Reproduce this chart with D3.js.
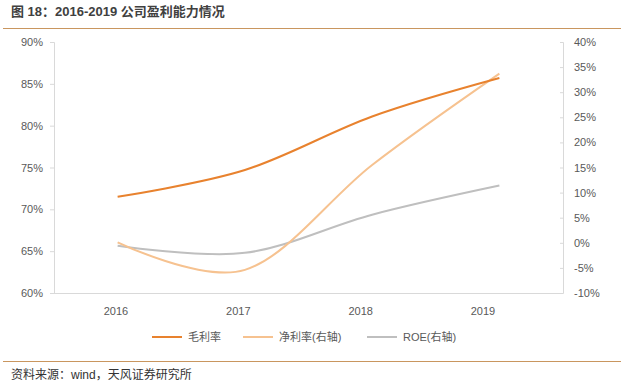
<!DOCTYPE html>
<html>
<head>
<meta charset="utf-8">
<script src="https://cdn.jsdelivr.net/npm/d3@7"></script>
<style>
  body { margin: 0; background: #fff; }
  text { font-family: "Liberation Sans", "Noto Sans CJK SC", sans-serif; }
</style>
</head>
<body>
<div id="chart"></div>
<script>
var years = ["2016", "2017", "2018", "2019"];
var grossMargin = [71.5, 74.7, 81.1, 85.7];   // 毛利率, left axis
var netMargin = [0.1, -5.4, 15.5, 33.7];      // 净利率, right axis
var roe = [-0.6, -2.0, 5.6, 11.4];            // ROE, right axis
var leftTicks = [60, 65, 70, 75, 80, 85, 90];
var rightTicks = [-10, -5, 0, 5, 10, 15, 20, 25, 30, 35, 40];
var legendNames = ["毛利率", "净利率(右轴)", "ROE(右轴)"];

var width = 624, height = 384;
var plotL = 54, plotR = 563, plotT = 42, plotB = 293;
var cText = "#595959", cAxis = "#d9d9d9";
var colors = ["#e8822e", "#f6c290", "#bfbfbf"];

var svg = d3.select("#chart").append("svg")
    .attr("width", width)
    .attr("height", height);

// header
svg.append("text")
    .attr("x", 11).attr("y", 16)
    .attr("font-size", 13).attr("font-weight", "bold")
    .attr("fill", "#404040")
    .text("图 18：2016-2019 公司盈利能力情况");
svg.append("line")
    .attr("x1", 3).attr("x2", 621).attr("y1", 28.5).attr("y2", 28.5)
    .attr("stroke", "#c9965f").attr("stroke-width", 1);

// footer
svg.append("line")
    .attr("x1", 3).attr("x2", 621).attr("y1", 361.5).attr("y2", 361.5)
    .attr("stroke", "#c9965f").attr("stroke-width", 1);
svg.append("text")
    .attr("x", 11).attr("y", 379)
    .attr("font-size", 12).attr("fill", "#333")
    .text("资料来源：wind，天风证券研究所");

var x = d3.scaleBand().domain(years).range([plotL, plotR]);
var xLabel = d3.scalePoint().domain(years).range([116, 483]);
var yL = d3.scaleLinear().domain([60, 90]).range([plotB, plotT]);
var yR = d3.scaleLinear().domain([-10, 40]).range([plotB, plotT]);

// axes
var gL = svg.append("g").attr("transform", "translate(" + plotL + ",0)")
    .call(d3.axisLeft(yL).tickValues(leftTicks).tickSize(4).tickPadding(7)
        .tickFormat(function (d) { return d + "%"; }));
var gR = svg.append("g").attr("transform", "translate(" + plotR + ",0)")
    .call(d3.axisRight(yR).tickValues(rightTicks).tickSize(-3).tickPadding(11)
        .tickFormat(function (d) { return d + "%"; }));
[gL, gR].forEach(function (g) {
    g.select(".domain").attr("stroke", cAxis);
    g.selectAll(".tick line").attr("stroke", cAxis);
    g.selectAll("text").attr("fill", cText).attr("font-size", 11)
        .style("font-family", "Liberation Sans, sans-serif");
});

svg.append("line")
    .attr("x1", plotL).attr("x2", plotR).attr("y1", plotB + 0.5).attr("y2", plotB + 0.5)
    .attr("stroke", cAxis);

svg.selectAll(".xlab")
    .data(years)
    .enter().append("text")
    .attr("class", "xlab")
    .attr("x", function (d) { return xLabel(d); })
    .attr("y", plotB + 22)
    .attr("text-anchor", "middle")
    .attr("font-size", 11).attr("fill", cText)
    .text(function (d) { return d; });

// lines
var cx = function (d, i) { return x(years[i]) + x.bandwidth() / 2; };
var lineL = d3.line().x(cx).y(function (d) { return yL(d); }).curve(d3.curveCardinal.tension(0));
var lineR = d3.line().x(cx).y(function (d) { return yR(d); }).curve(d3.curveCardinal.tension(0));

svg.append("path").attr("d", lineR(roe))
    .attr("fill", "none").attr("stroke", colors[2]).attr("stroke-width", 2);
svg.append("path").attr("d", lineR(netMargin))
    .attr("fill", "none").attr("stroke", colors[1]).attr("stroke-width", 2);
svg.append("path").attr("d", lineL(grossMargin))
    .attr("fill", "none").attr("stroke", colors[0]).attr("stroke-width", 2);

// legend
var legX = [152, 243, 367];
var leg = svg.selectAll(".leg")
    .data(legendNames)
    .enter().append("g")
    .attr("class", "leg")
    .attr("transform", function (d, i) { return "translate(" + legX[i] + ",337)"; });
leg.append("line")
    .attr("x1", 0).attr("x2", 30).attr("y1", 0).attr("y2", 0)
    .attr("stroke", function (d, i) { return colors[i]; }).attr("stroke-width", 2);
leg.append("text")
    .attr("x", 36).attr("y", 4)
    .attr("font-size", 11).attr("fill", cText)
    .text(function (d) { return d; });
</script>
</body>
</html>
